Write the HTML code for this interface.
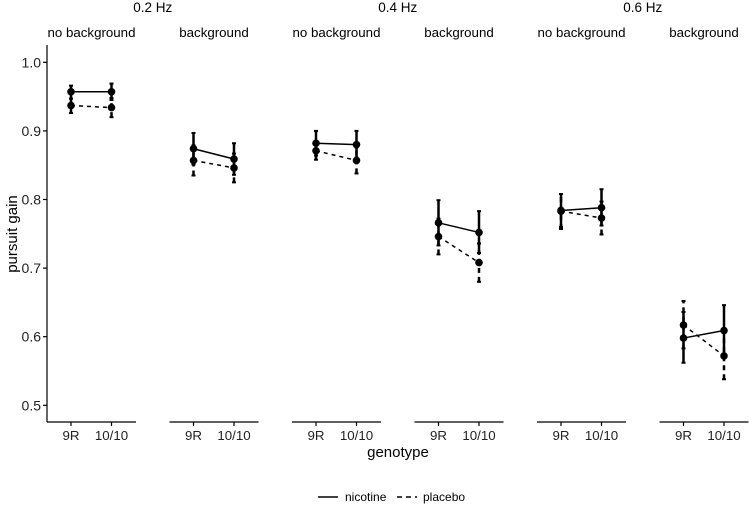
<!DOCTYPE html>
<html><head><meta charset="utf-8"><style>
body{margin:0;background:#fff}
svg{display:block;font-family:"Liberation Sans",Arial,sans-serif}
</style></head><body>
<svg id="chart" width="749" height="509" viewBox="0 0 749 509" xmlns="http://www.w3.org/2000/svg">
<g id="plot"></g>
<text x="398" y="457" font-size="15" text-anchor="middle">genotype</text>
<text x="0" y="0" font-size="15" text-anchor="middle" transform="translate(17,234) rotate(-90)">pursuit gain</text>
<g>
<g>
<line x1="318" y1="497" x2="338" y2="497" stroke="#000" stroke-width="1.5"/>
<text x="345" y="501" font-size="12">nicotine</text></g>
<g>
<line x1="397" y1="497" x2="417" y2="497" stroke="#000" stroke-width="1.5" stroke-dasharray="5,4"/>
<text x="423" y="501" font-size="12">placebo</text></g>
</g>
</svg>
<script>
const freqs=["0.2 Hz","0.4 Hz","0.6 Hz"];
const conds=["no background","background"];
const genotypes=["9R","10/10"];
const yTicks=[0.5,0.6,0.7,0.8,0.9,1.0];
const nicMean=[[0.957,0.957],[0.874,0.859],[0.882,0.880],[0.766,0.752],[0.784,0.788],[0.598,0.609]];
const nicLo=[[0.947,0.945],[0.851,0.836],[0.864,0.861],[0.733,0.722],[0.760,0.762],[0.562,0.574]];
const nicHi=[[0.966,0.969],[0.897,0.882],[0.900,0.900],[0.799,0.783],[0.808,0.815],[0.636,0.646]];
const plaMean=[[0.937,0.934],[0.857,0.846],[0.871,0.857],[0.746,0.708],[0.783,0.773],[0.617,0.572]];
const plaLo=[[0.926,0.920],[0.835,0.825],[0.858,0.838],[0.720,0.680],[0.757,0.749],[0.583,0.538]];
const plaHi=[[0.947,0.948],[0.879,0.867],[0.884,0.876],[0.772,0.736],[0.808,0.797],[0.652,0.607]];

const NS="http://www.w3.org/2000/svg";
const g=document.getElementById('plot');
function y(v){return 62.3+(1.0-v)*686;}
const panelX0=47,panelStep=122.5,panelW=89,axisBottom=422,axisTop=45;
function x(p,i){return panelX0+p*panelStep+24+i*40.5;}
function el(tag,attrs,parent){const e=document.createElementNS(NS,tag);for(const k in attrs)e.setAttribute(k,attrs[k]);(parent||g).appendChild(e);return e;}

const ya=el('g',{});


el('line',{x1:panelX0,y1:axisTop,x2:panelX0,y2:axisBottom,stroke:'#000','stroke-width':1.2},ya);
yTicks.forEach(t=>{
  el('line',{x1:panelX0-4,y1:y(t),x2:panelX0,y2:y(t),stroke:'#000','stroke-width':1.2},ya);
  const tx=el('text',{x:panelX0-6,y:y(t)+5,'font-size':14,'text-anchor':'end',fill:'#222'},ya);
  tx.textContent=t.toFixed(1);
  
  
});

freqs.forEach((f,k)=>{
  const cx=panelX0+2*k*panelStep+(panelStep+panelW)/2;
  const t=el('text',{x:cx,y:12,'font-size':13.5,'text-anchor':'middle'});
  t.textContent=f;
  
  
});

for(let p=0;p<6;p++){
  const pg=el('g',{});
  
  
  const x0=panelX0+p*panelStep;
  const st=el('text',{x:x0+panelW/2,y:37,'font-size':13.3,'text-anchor':'middle'},pg);
  st.textContent=conds[p%2];
  
  
  el('line',{x1:x0,y1:axisBottom,x2:x0+panelW,y2:axisBottom,stroke:'#000','stroke-width':1.2},pg);
  genotypes.forEach((gn,i)=>{
    el('line',{x1:x(p,i),y1:axisBottom,x2:x(p,i),y2:axisBottom+4,stroke:'#000','stroke-width':1.2},pg);
    const tl=el('text',{x:x(p,i),y:axisBottom+18,'font-size':13.3,'text-anchor':'middle',fill:'#222'},pg);
    tl.textContent=gn;
    
    
  });
  const series=[[plaMean,plaLo,plaHi,'4,4','placebo'],[nicMean,nicLo,nicHi,null,'nicotine']];
  series.forEach(([m,lo,hi,dash,name])=>{
    const sg=el('g',{},pg);
    
    
    const ln=el('line',{x1:x(p,0),y1:y(m[p][0]),x2:x(p,1),y2:y(m[p][1]),stroke:'#000','stroke-width':1.5},sg);
    if(dash)ln.setAttribute('stroke-dasharray',dash);
    
    
    for(let i=0;i<2;i++){
      const eb=el('line',{x1:x(p,i),y1:y(lo[p][i]),x2:x(p,i),y2:y(hi[p][i]),stroke:'#000','stroke-width':2.5},sg);
      if(dash)eb.setAttribute('stroke-dasharray','5,4');
      
      
      [lo[p][i],hi[p][i]].forEach(v=>el('line',{x1:x(p,i)-2,y1:y(v),x2:x(p,i)+2,y2:y(v),stroke:'#000','stroke-width':2},sg));
      const c=el('circle',{cx:x(p,i),cy:y(m[p][i]),r:3.8,fill:'#000'},sg);
      
      
    }
  });
}
</script>
</body></html>
